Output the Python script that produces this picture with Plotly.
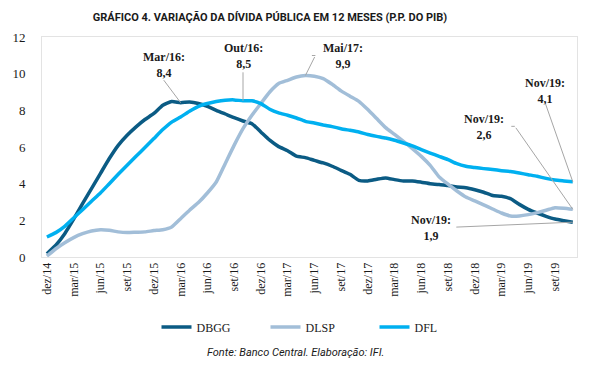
import plotly.graph_objects as go

# ---- data ----
months = ["dez/14","jan/15","fev/15","mar/15","abr/15","mai/15","jun/15","jul/15","ago/15","set/15","out/15","nov/15",
          "dez/15","jan/16","fev/16","mar/16","abr/16","mai/16","jun/16","jul/16","ago/16","set/16","out/16","nov/16",
          "dez/16","jan/17","fev/17","mar/17","abr/17","mai/17","jun/17","jul/17","ago/17","set/17","out/17","nov/17",
          "dez/17","jan/18","fev/18","mar/18","abr/18","mai/18","jun/18","jul/18","ago/18","set/18","out/18","nov/18",
          "dez/18","jan/19","fev/19","mar/19","abr/19","mai/19","jun/19","jul/19","ago/19","set/19","out/19","nov/19"]

dbgg = [0.18, 0.64, 1.27, 2.06, 2.91, 3.73, 4.55, 5.37, 6.09, 6.64, 7.10, 7.50,
        7.83, 8.28, 8.48, 8.42, 8.45, 8.37, 8.22, 8.00, 7.80, 7.60, 7.42, 7.27,
        6.82, 6.37, 6.02, 5.80, 5.50, 5.42, 5.27, 5.13, 4.95, 4.73, 4.51, 4.18,
        4.15, 4.24, 4.31, 4.22, 4.15, 4.15, 4.08, 4.00, 3.95, 3.90, 3.82, 3.78,
        3.67, 3.53, 3.35, 3.31, 3.18, 2.87, 2.60, 2.40, 2.22, 2.07, 1.98, 1.90]

dlsp = [0.05, 0.45, 0.78, 1.06, 1.27, 1.42, 1.49, 1.46, 1.37, 1.33, 1.35, 1.37,
        1.44, 1.49, 1.64, 2.09, 2.55, 2.97, 3.49, 4.09, 5.09, 6.09, 7.00, 7.73,
        8.37, 9.00, 9.46, 9.64, 9.82, 9.90, 9.86, 9.73, 9.42, 9.06, 8.77, 8.49,
        8.04, 7.55, 7.06, 6.69, 6.31, 5.91, 5.49, 5.00, 4.37, 3.97, 3.60, 3.27,
        3.06, 2.84, 2.62, 2.40, 2.24, 2.24, 2.31, 2.42, 2.55, 2.69, 2.66, 2.60]

dfl = [1.09, 1.33, 1.67, 2.13, 2.58, 3.04, 3.49, 4.00, 4.51, 5.00, 5.49, 5.97,
       6.46, 6.95, 7.36, 7.64, 7.95, 8.22, 8.37, 8.48, 8.55, 8.57, 8.52, 8.52,
       8.37, 8.06, 7.86, 7.73, 7.58, 7.40, 7.31, 7.20, 7.11, 7.00, 6.91, 6.82,
       6.68, 6.58, 6.49, 6.37, 6.22, 6.06, 5.86, 5.67, 5.49, 5.31, 5.09, 4.95,
       4.88, 4.82, 4.77, 4.71, 4.66, 4.58, 4.49, 4.40, 4.29, 4.20, 4.15, 4.10]

tick_labels = ["dez/14","mar/15","jun/15","set/15","dez/15","mar/16","jun/16","set/16","dez/16","mar/17",
               "jun/17","set/17","dez/17","mar/18","jun/18","set/18","dez/18","mar/19","jun/19","set/19"]

series_names = ["DBGG", "DLSP", "DFL"]
colors = ["#0b5b84", "#a2bed8", "#00b0f0"]

x = list(range(len(months)))
tick_vals = [months.index(t) for t in tick_labels]

fig = go.Figure()
for name, vals, c in zip(series_names, [dbgg, dlsp, dfl], colors):
    fig.add_trace(go.Scatter(x=x, y=vals, mode="lines", name=name,
                             line=dict(color=c, width=3.5, shape="spline", smoothing=0.5)))

serif = "Liberation Serif, DejaVu Serif, serif"
ann_font = dict(family=serif, size=12, color="#1a1a1a")
lead = "#a6a6a6"

def fmt(v):
    return ("%.1f" % v).replace(".", ",")

def label(month, vals, dx, dy, tx, ty, elbow=None):
    i = months.index(month)
    v = vals[i]
    txt = "<b>%s:<br>%s</b>" % (month.capitalize(), fmt(v))
    fig.add_annotation(x=i, y=v, xref="x", yref="y", text="", showarrow=True,
                       arrowhead=0, arrowwidth=1, arrowcolor=lead, ax=dx, ay=dy, standoff=0)
    if elbow is not None:
        fig.add_annotation(x=i, y=v, xref="x", yref="y", text="", showarrow=True,
                           arrowhead=0, arrowwidth=1, arrowcolor=lead,
                           ax=elbow[0], ay=elbow[1], standoff=0,
                           xshift=dx, yshift=-dy)
    fig.add_annotation(x=i, y=v, xref="x", yref="y", text=txt, showarrow=False,
                       xshift=tx, yshift=ty, font=ann_font, align="center")

label("mar/16", dbgg, -18, -24, -17, 38)
label("out/16", dfl, 0, -30, 0, 45)
label("mai/17", dlsp, 10, -20, 38, 20, elbow=(-5, 0))
label("nov/19", dfl, -28, -80, -28, 91)
label("nov/19", dlsp, -58, -83, -89, 82, elbow=(-5, 0))
label("nov/19", dbgg, -118, 5, -142, -6)

fig.update_layout(
    width=600, height=366,
    margin=dict(l=35, r=23, t=37, b=109),
    paper_bgcolor="white", plot_bgcolor="white",
    title=dict(text="<b>GRÁFICO 4. VARIAÇÃO DA DÍVIDA PÚBLICA EM 12 MESES (P.P. DO PIB)</b>",
               x=270/600, xanchor="center", y=1 - 17/366, yanchor="middle",
               font=dict(family="Roboto, sans-serif", size=11, color="#1a1a1a")),
    showlegend=True,
    legend=dict(orientation="h", x=(151-35)/542, xanchor="left", y=-(327-257)/220, yanchor="middle",
                font=dict(family=serif, size=12, color="#1a1a1a"),
                entrywidth=64, entrywidthmode="pixels", itemwidth=30),
    xaxis=dict(range=[-0.55, 59.47], tickvals=tick_vals, ticktext=tick_labels, tickangle=-90,
               showgrid=False, zeroline=False, showline=True, mirror=True, linecolor="#e3e3e3",
               linewidth=1, ticks="", tickfont=dict(family=serif, size=12, color="#1a1a1a")),
    yaxis=dict(range=[0, 12], dtick=2, showgrid=False, zeroline=False, showline=True, mirror=True,
               linecolor="#e3e3e3", linewidth=1, ticks="", ticklabelstandoff=13,
               tickfont=dict(family=serif, size=13, color="#1a1a1a")),
)

fig.add_annotation(text="<i>Fonte: Banco Central. Elaboração: IFI.</i>", xref="paper", yref="paper",
                   x=(292-35)/542, y=-(352-257)/220, xanchor="center", yanchor="middle", showarrow=False,
                   font=dict(family="Roboto, sans-serif", size=11, color="#1a1a1a"))

fig.write_html("out.html", config={"displayModeBar": False},
               post_script="document.body.style.margin='0';")
